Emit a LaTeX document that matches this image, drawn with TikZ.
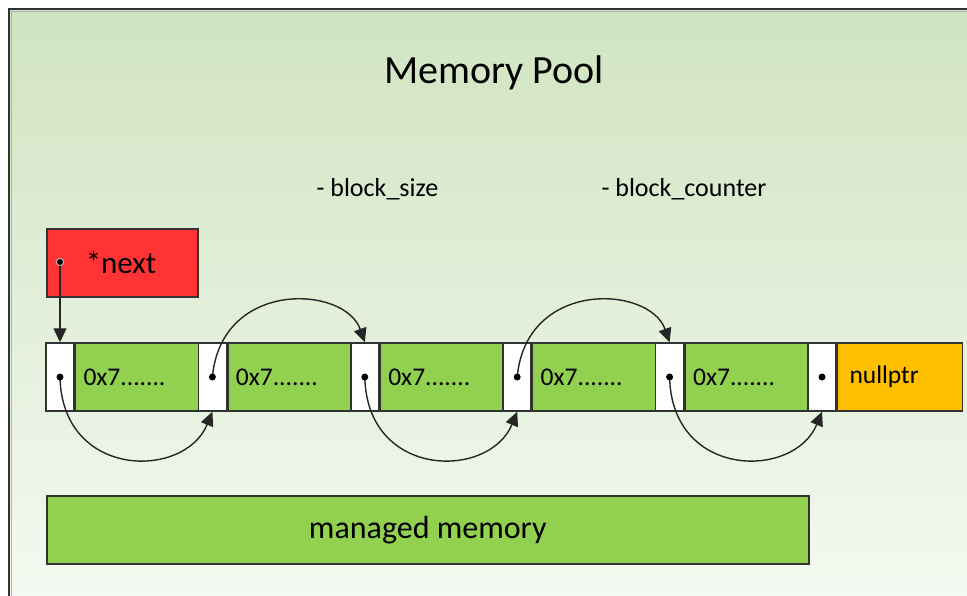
\documentclass[tikz,border=0pt]{standalone}
\usepackage{fontspec}
\setmainfont{Carlito}
\usetikzlibrary{arrows.meta}

\definecolor{cellgreen}{RGB}{146,208,80}
\definecolor{nullorange}{RGB}{255,192,0}
\definecolor{nextred}{RGB}{255,51,51}
\definecolor{bgtop}{RGB}{208,228,193}
\definecolor{bgbottom}{RGB}{246,250,243}
\definecolor{edge}{RGB}{50,50,50}

\begin{document}
\begin{tikzpicture}[x=1pt,y=-1pt,
  box/.style={draw=edge, line width=1.5pt, inner sep=0pt, minimum height=68pt},
  ptrcell/.style={box, fill=white, minimum width=28pt},
  datacell/.style={box, fill=cellgreen, text width=109pt, inner xsep=8pt, align=left,
                   font=\fontsize{25.5}{30}\selectfont},
  nullcell/.style={box, fill=nullorange, text width=101pt, inner xsep=12pt, align=left,
                   font=\fontsize{25.5}{30}\selectfont},
  dot/.style={circle, fill=black, inner sep=0pt, minimum size=7pt},
  link/.style={line width=1.4pt, draw=black!85, -{Triangle[length=14pt,width=13pt]}},
]
\useasboundingbox (0,0) rectangle (967,595);
\clip (0,0) rectangle (967,595);

% pool background and frame
\shade[top color=bgtop, bottom color=bgbottom] (9,9) rectangle (990,620);
\draw[line width=1.5pt, black!30] (11.5,620) -- (11.5,11.5) -- (990,11.5);
\draw[line width=2pt, edge] (9,620) -- (9,9) -- (990,9);

% title and members
\node[font=\fontsize{40}{48}\selectfont] (title) at (494,73) {Memory Pool};
\node[anchor=west, font=\fontsize{26}{31}\selectfont] (bsize) at (313,189) {- block\_size};
\node[anchor=west, font=\fontsize{26}{31}\selectfont] (bcount) at (598,189) {- block\_counter};

% head pointer
\node[box, fill=nextred, text width=73pt, inner xsep=39pt, align=left,
      anchor=north west, font=\fontsize{31}{36}\selectfont] (next) at (46,228) {*next};
\node[dot, draw=gray!50, line width=0.8pt] (nextdot) at (60,262) {};

% free list cells
\foreach \i in {0,...,4} {
  \node[ptrcell] (p\i) at ({60+152.4*\i},377) {};
  \node[datacell, anchor=west] (d\i) at (p\i.east) {0x7.......};
}
\node[ptrcell] (p5) at (822,377) {};
\node[nullcell, anchor=west] (null) at (p5.east) {nullptr};

% links between the cells
\draw[link] (nextdot.center) -- (p0.north);
\draw[link] (p0.center) .. controls +(2,102) and +(-28,68) .. (p1.south);
\draw[link] (p1.center) .. controls +(9,-98) and +(-20,-57) .. (p2.north);
\draw[link] (p2.center) .. controls +(2,102) and +(-28,68) .. (p3.south);
\draw[link] (p3.center) .. controls +(9,-98) and +(-20,-57) .. (p4.north);
\draw[link] (p4.center) .. controls +(2,102) and +(-28,68) .. (p5.south);

\foreach \i in {0,...,5} { \node[dot] (c\i) at (p\i) {}; }
\node[dot, draw=gray!50, line width=0.8pt] at (nextdot) {};

% managed memory block
\node[box, fill=cellgreen, minimum width=762pt, anchor=north west,
      font=\fontsize{32}{38}\selectfont] (managed) at (46,495) {managed memory};
\end{tikzpicture}
\end{document}
